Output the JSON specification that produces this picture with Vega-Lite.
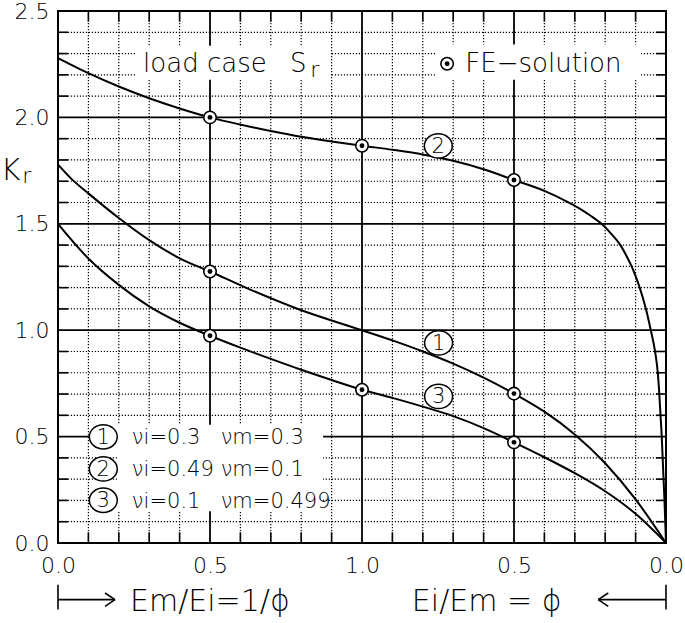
{
  "$schema": "https://vega.github.io/schema/vega-lite/v6.json",
  "width": 608,
  "height": 532,
  "autosize": {"type": "none"},
  "padding": {"left": 58, "top": 11, "right": 19, "bottom": 80},
  "background": "white",
  "config": {
    "view": {"stroke": "black", "strokeWidth": 2},
    "axis": {"grid": false, "ticks": false, "domain": false, "tickSize": 0, "labelFont": "DejaVu Sans", "labelFontWeight": 200, "labelFontSize": 22, "labelColor": "black", "labelFlush": false, "labelOverlap": false, "labelBound": false},
    "text": {"font": "DejaVu Sans", "fontWeight": 200, "color": "black"}
  },
  "datasets": {
    "vminor": [{"x": 0.1}, {"x": 0.2}, {"x": 0.3}, {"x": 0.4}, {"x": 0.6}, {"x": 0.7}, {"x": 0.8}, {"x": 0.9}, {"x": 1.1}, {"x": 1.2}, {"x": 1.3}, {"x": 1.4}, {"x": 1.6}, {"x": 1.7}, {"x": 1.8}, {"x": 1.9}],
    "hminor": [{"y": 0.1}, {"y": 0.2}, {"y": 0.3}, {"y": 0.4}, {"y": 0.6}, {"y": 0.7}, {"y": 0.8}, {"y": 0.9}, {"y": 1.1}, {"y": 1.2}, {"y": 1.3}, {"y": 1.4}, {"y": 1.6}, {"y": 1.7}, {"y": 1.8}, {"y": 1.9}, {"y": 2.1}, {"y": 2.2}, {"y": 2.3}, {"y": 2.4}],
    "vmajor": [{"x": 0.5}, {"x": 1.0}, {"x": 1.5}],
    "hmajor": [{"y": 0.5}, {"y": 1.0}, {"y": 1.5}, {"y": 2.0}],
    "boxes": [
      {"x": 0.255, "x2": 0.895, "y": 2.177, "y2": 2.337},
      {"x": 1.24, "x2": 1.918, "y": 2.177, "y2": 2.342},
      {"x": 0.195, "x2": 0.872, "y": 0.149, "y2": 0.556}
    ],
    "curves": [
      {"c": "1", "x": 0.0, "y": 1.778}, {"c": "1", "x": 0.045, "y": 1.71}, {"c": "1", "x": 0.1, "y": 1.643}, {"c": "1", "x": 0.2, "y": 1.527}, {"c": "1", "x": 0.3, "y": 1.423}, {"c": "1", "x": 0.4, "y": 1.338}, {"c": "1", "x": 0.5, "y": 1.276}, {"c": "1", "x": 0.621, "y": 1.198}, {"c": "1", "x": 0.796, "y": 1.096}, {"c": "1", "x": 1.0, "y": 1.0}, {"c": "1", "x": 1.1, "y": 0.952}, {"c": "1", "x": 1.2, "y": 0.9}, {"c": "1", "x": 1.3, "y": 0.843}, {"c": "1", "x": 1.4, "y": 0.777}, {"c": "1", "x": 1.5, "y": 0.702}, {"c": "1", "x": 1.6, "y": 0.617}, {"c": "1", "x": 1.7, "y": 0.51}, {"c": "1", "x": 1.8, "y": 0.375}, {"c": "1", "x": 1.9, "y": 0.205}, {"c": "1", "x": 2.0, "y": 0.0},
      {"c": "2", "x": 0.0, "y": 2.279}, {"c": "2", "x": 0.1, "y": 2.208}, {"c": "2", "x": 0.2, "y": 2.145}, {"c": "2", "x": 0.3, "y": 2.09}, {"c": "2", "x": 0.4, "y": 2.042}, {"c": "2", "x": 0.5, "y": 2.0}, {"c": "2", "x": 0.6, "y": 1.966}, {"c": "2", "x": 0.7, "y": 1.936}, {"c": "2", "x": 0.8, "y": 1.909}, {"c": "2", "x": 0.9, "y": 1.887}, {"c": "2", "x": 1.0, "y": 1.867}, {"c": "2", "x": 1.1, "y": 1.848}, {"c": "2", "x": 1.2, "y": 1.826}, {"c": "2", "x": 1.3, "y": 1.796}, {"c": "2", "x": 1.4, "y": 1.756}, {"c": "2", "x": 1.5, "y": 1.706}, {"c": "2", "x": 1.6, "y": 1.655}, {"c": "2", "x": 1.679, "y": 1.601}, {"c": "2", "x": 1.72, "y": 1.568}, {"c": "2", "x": 1.75, "y": 1.54}, {"c": "2", "x": 1.788, "y": 1.5}, {"c": "2", "x": 1.82, "y": 1.453}, {"c": "2", "x": 1.849, "y": 1.402}, {"c": "2", "x": 1.87, "y": 1.349}, {"c": "2", "x": 1.887, "y": 1.3}, {"c": "2", "x": 1.9, "y": 1.254}, {"c": "2", "x": 1.914, "y": 1.198}, {"c": "2", "x": 1.934, "y": 1.1}, {"c": "2", "x": 1.95, "y": 1.0}, {"c": "2", "x": 1.964, "y": 0.9}, {"c": "2", "x": 1.973, "y": 0.8}, {"c": "2", "x": 1.978, "y": 0.7}, {"c": "2", "x": 1.982, "y": 0.6}, {"c": "2", "x": 1.986, "y": 0.5}, {"c": "2", "x": 1.989, "y": 0.4}, {"c": "2", "x": 1.992, "y": 0.3}, {"c": "2", "x": 1.995, "y": 0.2}, {"c": "2", "x": 1.9975, "y": 0.1}, {"c": "2", "x": 2.0, "y": 0.0},
      {"c": "3", "x": 0.0, "y": 1.5}, {"c": "3", "x": 0.1, "y": 1.337}, {"c": "3", "x": 0.2, "y": 1.213}, {"c": "3", "x": 0.3, "y": 1.112}, {"c": "3", "x": 0.4, "y": 1.035}, {"c": "3", "x": 0.5, "y": 0.974}, {"c": "3", "x": 0.6, "y": 0.918}, {"c": "3", "x": 0.7, "y": 0.865}, {"c": "3", "x": 0.8, "y": 0.814}, {"c": "3", "x": 0.9, "y": 0.766}, {"c": "3", "x": 1.0, "y": 0.72}, {"c": "3", "x": 1.1, "y": 0.682}, {"c": "3", "x": 1.2, "y": 0.641}, {"c": "3", "x": 1.3, "y": 0.596}, {"c": "3", "x": 1.4, "y": 0.54}, {"c": "3", "x": 1.5, "y": 0.473}, {"c": "3", "x": 1.6, "y": 0.403}, {"c": "3", "x": 1.7, "y": 0.328}, {"c": "3", "x": 1.8, "y": 0.243}, {"c": "3", "x": 1.9, "y": 0.137}, {"c": "3", "x": 2.0, "y": 0.0}
    ],
    "fe": [
      {"x": 0.5, "y": 2.0}, {"x": 1.0, "y": 1.867}, {"x": 1.5, "y": 1.706},
      {"x": 0.5, "y": 1.276}, {"x": 1.5, "y": 0.702},
      {"x": 0.5, "y": 0.974}, {"x": 1.0, "y": 0.72}, {"x": 1.5, "y": 0.473},
      {"x": 1.28, "y": 2.252}
    ],
    "circles": [
      {"n": "1", "x": 1.252, "y": 0.94}, {"n": "2", "x": 1.251, "y": 1.866}, {"n": "3", "x": 1.252, "y": 0.689},
      {"n": "1", "x": 0.149, "y": 0.499}, {"n": "2", "x": 0.149, "y": 0.348}, {"n": "3", "x": 0.149, "y": 0.201}
    ],
    "legend": [
      {"t": "νi=0.3", "x": 0.243, "y": 0.467}, {"t": "νm=0.3", "x": 0.535, "y": 0.467},
      {"t": "νi=0.49", "x": 0.243, "y": 0.313}, {"t": "νm=0.1", "x": 0.535, "y": 0.313},
      {"t": "νi=0.1", "x": 0.243, "y": 0.164}, {"t": "νm=0.499", "x": 0.535, "y": 0.164}
    ],
    "notes": [
      {"t": "load  case", "x": 0.28, "y": 2.213},
      {"t": "S", "x": 0.763, "y": 2.213},
      {"t": "FE−solution", "x": 1.34, "y": 2.213}
    ],
    "subs": [
      {"t": "r", "x": 0.83, "y": 2.19},
      {"t": "r", "x": -0.118, "y": 1.692}
    ],
    "big": [
      {"t": "K", "x": -0.188, "y": 1.707},
      {"t": "Em/Ei=1/ϕ", "x": 0.237, "y": -0.321},
      {"t": "Ei/Em = ϕ", "x": 1.164, "y": -0.321}
    ],
    "arrows": [
      {"x": 0.0, "x2": 0.0, "y": -0.196, "y2": -0.313},
      {"x": 0.0, "x2": 0.1875, "y": -0.266, "y2": -0.266},
      {"x": 0.1875, "x2": 0.1546, "y": -0.266, "y2": -0.235},
      {"x": 0.1875, "x2": 0.1546, "y": -0.266, "y2": -0.298},
      {"x": 2.0, "x2": 2.0, "y": -0.196, "y2": -0.313},
      {"x": 1.777, "x2": 2.0, "y": -0.266, "y2": -0.266},
      {"x": 1.777, "x2": 1.81, "y": -0.266, "y2": -0.235},
      {"x": 1.777, "x2": 1.81, "y": -0.266, "y2": -0.298}
    ]
  },
  "layer": [
    {
      "data": {"name": "vminor"},
      "mark": {"type": "rule", "color": "black", "strokeWidth": 1.2, "strokeDash": [1.2, 1.8]},
      "encoding": {
        "x": {"field": "x", "type": "quantitative", "title": null, "scale": {"domain": [0, 2], "nice": false, "zero": false},
          "axis": {"values": [0, 0.5, 1, 1.5, 2], "labelExpr": "datum.value > 1 ? format(2 - datum.value, '.1f') : format(datum.value, '.1f')", "labelPadding": 12}}
      }
    },
    {
      "data": {"name": "hminor"},
      "mark": {"type": "rule", "color": "black", "strokeWidth": 1.2, "strokeDash": [1.2, 1.8]},
      "encoding": {
        "y": {"field": "y", "type": "quantitative", "title": null, "scale": {"domain": [0, 2.5], "nice": false, "zero": false},
          "axis": {"values": [0, 0.5, 1, 1.5, 2, 2.5], "format": ".1f", "labelPadding": 9}}
      }
    },
    {
      "data": {"name": "vmajor"},
      "mark": {"type": "rule", "color": "black", "strokeWidth": 1.8},
      "encoding": {"x": {"field": "x", "type": "quantitative"}}
    },
    {
      "data": {"name": "hmajor"},
      "mark": {"type": "rule", "color": "black", "strokeWidth": 1.8},
      "encoding": {"y": {"field": "y", "type": "quantitative"}}
    },
    {
      "data": {"name": "vminor"},
      "mark": {"type": "rule", "color": "black", "strokeWidth": 1.6},
      "encoding": {"x": {"field": "x", "type": "quantitative"}, "y": {"datum": 0}, "y2": {"datum": 0.05}}
    },
    {
      "data": {"name": "vminor"},
      "mark": {"type": "rule", "color": "black", "strokeWidth": 1.6},
      "encoding": {"x": {"field": "x", "type": "quantitative"}, "y": {"datum": 2.45}, "y2": {"datum": 2.5}}
    },
    {
      "data": {"name": "hminor"},
      "mark": {"type": "rule", "color": "black", "strokeWidth": 1.6},
      "encoding": {"y": {"field": "y", "type": "quantitative"}, "x": {"datum": 0}, "x2": {"datum": 0.033}}
    },
    {
      "data": {"name": "hminor"},
      "mark": {"type": "rule", "color": "black", "strokeWidth": 1.6},
      "encoding": {"y": {"field": "y", "type": "quantitative"}, "x": {"datum": 1.967}, "x2": {"datum": 2}}
    },
    {
      "data": {"name": "boxes"},
      "mark": {"type": "rect", "fill": "white", "strokeWidth": 0},
      "encoding": {"x": {"field": "x", "type": "quantitative"}, "x2": {"field": "x2"}, "y": {"field": "y", "type": "quantitative"}, "y2": {"field": "y2"}}
    },
    {
      "data": {"name": "curves"},
      "mark": {"type": "line", "color": "black", "strokeWidth": 2, "interpolate": "monotone"},
      "encoding": {"x": {"field": "x", "type": "quantitative"}, "y": {"field": "y", "type": "quantitative"}, "detail": {"field": "c"}}
    },
    {
      "data": {"name": "fe"},
      "mark": {"type": "point", "shape": "circle", "size": 155, "filled": true, "fill": "white", "stroke": "black", "strokeWidth": 1.6, "opacity": 1},
      "encoding": {"x": {"field": "x", "type": "quantitative"}, "y": {"field": "y", "type": "quantitative"}}
    },
    {
      "data": {"name": "fe"},
      "mark": {"type": "point", "shape": "circle", "size": 24, "filled": true, "color": "black", "opacity": 1},
      "encoding": {"x": {"field": "x", "type": "quantitative"}, "y": {"field": "y", "type": "quantitative"}}
    },
    {
      "data": {"name": "circles"},
      "mark": {"type": "point", "shape": "M-1,0A1,0.87 0 1,1 1,0A1,0.87 0 1,1 -1,0Z", "size": 780, "filled": true, "fill": "white", "stroke": "black", "strokeWidth": 1.5, "opacity": 1},
      "encoding": {"x": {"field": "x", "type": "quantitative"}, "y": {"field": "y", "type": "quantitative"}}
    },
    {
      "data": {"name": "circles"},
      "mark": {"type": "text", "fontSize": 21, "align": "center", "baseline": "middle", "dy": 1},
      "encoding": {"x": {"field": "x", "type": "quantitative"}, "y": {"field": "y", "type": "quantitative"}, "text": {"field": "n"}}
    },
    {
      "data": {"name": "legend"},
      "mark": {"type": "text", "fontSize": 21, "align": "left", "baseline": "alphabetic"},
      "encoding": {"x": {"field": "x", "type": "quantitative"}, "y": {"field": "y", "type": "quantitative"}, "text": {"field": "t"}}
    },
    {
      "data": {"name": "notes"},
      "mark": {"type": "text", "fontSize": 26, "align": "left", "baseline": "alphabetic"},
      "encoding": {"x": {"field": "x", "type": "quantitative"}, "y": {"field": "y", "type": "quantitative"}, "text": {"field": "t"}}
    },
    {
      "data": {"name": "subs"},
      "mark": {"type": "text", "fontSize": 22, "align": "left", "baseline": "alphabetic"},
      "encoding": {"x": {"field": "x", "type": "quantitative"}, "y": {"field": "y", "type": "quantitative"}, "text": {"field": "t"}}
    },
    {
      "data": {"name": "big"},
      "mark": {"type": "text", "fontSize": 30, "align": "left", "baseline": "alphabetic"},
      "encoding": {"x": {"field": "x", "type": "quantitative"}, "y": {"field": "y", "type": "quantitative"}, "text": {"field": "t"}}
    },
    {
      "data": {"name": "arrows"},
      "mark": {"type": "rule", "color": "black", "strokeWidth": 1.6},
      "encoding": {"x": {"field": "x", "type": "quantitative"}, "x2": {"field": "x2"}, "y": {"field": "y", "type": "quantitative"}, "y2": {"field": "y2"}}
    }
  ]
}
